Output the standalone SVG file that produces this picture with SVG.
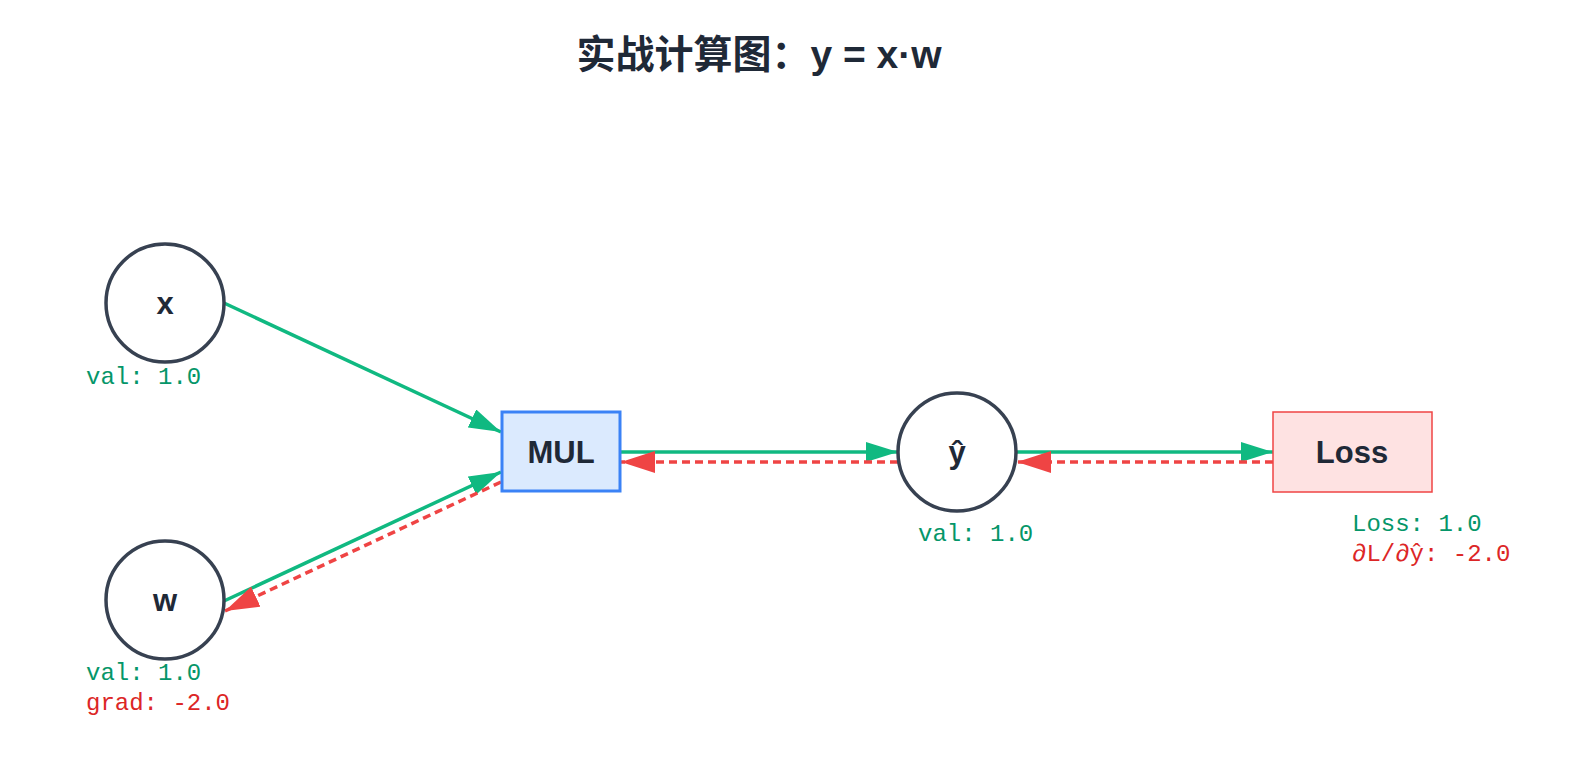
<svg xmlns="http://www.w3.org/2000/svg" width="1572" height="766" viewBox="0 0 1572 766">
<style>
.circ{fill:#ffffff;stroke:#374151;stroke-width:3.5}
.lbl{font-family:"Liberation Sans","Noto Sans CJK SC",sans-serif;font-weight:bold;font-size:31px;fill:#1f2937;text-anchor:middle}
.mono{font-family:"Liberation Mono","Noto Sans CJK SC",monospace;font-size:24px}
.g{fill:#059669}
.r{fill:#dc2626}
.fw{stroke:#10b981;stroke-width:3.5;fill:none}
.bw{stroke:#ef4444;stroke-width:3.5;fill:none;stroke-dasharray:8,5}
</style>
<defs>
<marker id="ag" markerUnits="userSpaceOnUse" markerWidth="32" markerHeight="20" refX="32" refY="10" orient="auto"><path d="M0,0 L32,10 L0,20 z" fill="#10b981"/></marker>
<marker id="ar" markerUnits="userSpaceOnUse" markerWidth="34" markerHeight="22" refX="34" refY="11" orient="auto"><path d="M0,0 L34,11 L0,22 z" fill="#ef4444"/></marker>
</defs>
<rect width="1572" height="766" fill="#ffffff"/>
<text x="759" y="68" font-family="Liberation Sans,'Noto Sans CJK SC',sans-serif" font-weight="bold" font-size="39" fill="#1f2937" text-anchor="middle">实战计算图：y = x·w</text>
<g id="connectors">
<line class="fw" x1="224" y1="303" x2="501" y2="432" marker-end="url(#ag)"/>
<line class="fw" x1="224" y1="601" x2="501" y2="472" marker-end="url(#ag)"/>
<line class="fw" x1="621" y1="452" x2="898" y2="452" marker-end="url(#ag)"/>
<line class="fw" x1="1016" y1="452" x2="1273" y2="452" marker-end="url(#ag)"/>
<line class="bw" x1="1273" y1="462" x2="1017" y2="462" marker-end="url(#ar)"/>
<line class="bw" x1="898" y1="462" x2="621" y2="462" marker-end="url(#ar)"/>
<line class="bw" x1="501" y1="482" x2="225" y2="611" marker-end="url(#ar)"/>
</g>
<g id="node-x">
<circle class="circ" cx="165" cy="303" r="59"/>
<text class="lbl" x="165" y="314">x</text>
<text class="mono g" x="86" y="384">val: 1.0</text>
</g>
<g id="node-w">
<circle class="circ" cx="165" cy="600" r="59"/>
<text class="lbl" x="165" y="611">w</text>
<text class="mono g" x="86" y="680">val: 1.0</text>
<text class="mono r" x="86" y="710">grad: -2.0</text>
</g>
<g id="node-mul">
<rect x="502" y="412" width="118" height="79" fill="#dbeafe" stroke="#3b82f6" stroke-width="3"/>
<text class="lbl" x="561" y="463">MUL</text>
</g>
<g id="node-yhat">
<circle class="circ" cx="957" cy="452" r="59"/>
<text class="lbl" x="957" y="463">ŷ</text>
<text class="mono g" x="918" y="541">val: 1.0</text>
</g>
<g id="node-loss">
<rect x="1273" y="412" width="159" height="80" fill="#fee2e2" stroke="#ef4444" stroke-width="1.5"/>
<text class="lbl" x="1352" y="463">Loss</text>
<text class="mono g" x="1352" y="531">Loss: 1.0</text>
<text class="mono r" x="1352" y="561">∂L/∂ŷ: -2.0</text>
</g>
</svg>
